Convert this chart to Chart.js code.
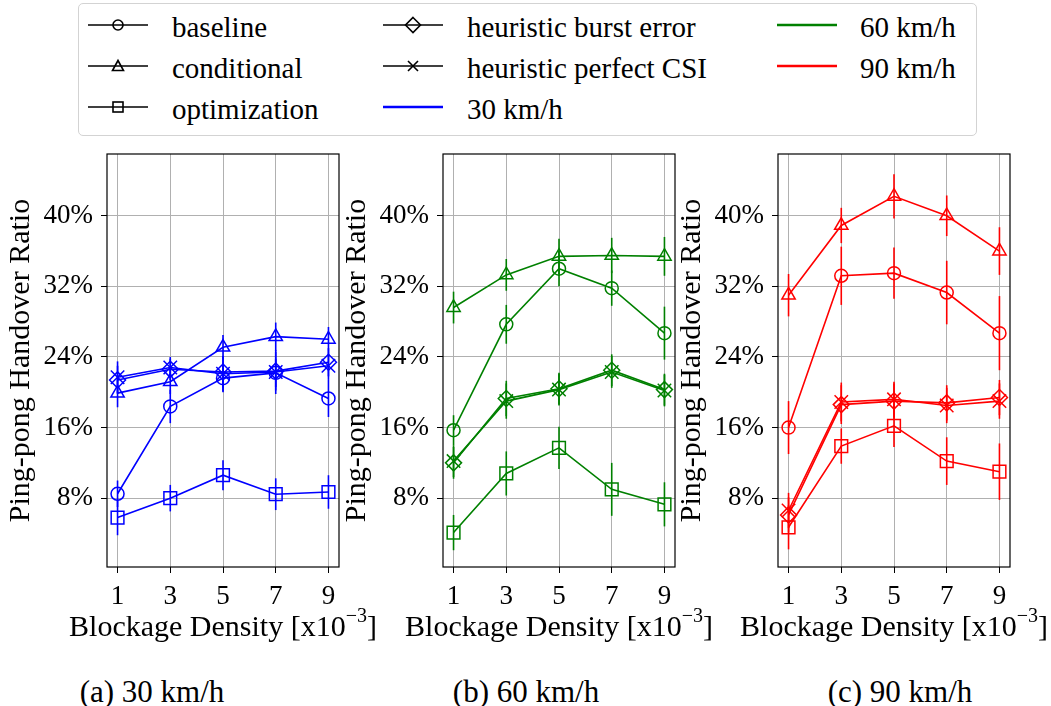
<!DOCTYPE html>
<html><head><meta charset="utf-8">
<script src="https://cdn.jsdelivr.net/npm/chart.js@4.4.1/dist/chart.umd.min.js"></script>
<style>
body{margin:0;width:1051px;height:706px;background:#fff;position:relative;overflow:hidden;font-family:"Liberation Serif",serif;color:#000;}
canvas.cv{position:absolute;top:140px;width:350px;height:520px;}
#legend{position:absolute;left:78px;top:3px;width:897px;height:131px;border:1px solid #d3d3d3;border-radius:5px;box-sizing:content-box;}
.mk{position:absolute;}
.lt{position:absolute;font-family:"Liberation Serif",serif;font-size:29px;line-height:34px;white-space:nowrap;}
.cap{position:absolute;top:674px;font-family:"Liberation Serif",serif;font-size:31px;line-height:36px;white-space:nowrap;transform:translateX(-50%);}
.xt{position:absolute;font-family:"Liberation Serif",serif;font-size:30px;line-height:36px;white-space:nowrap;transform:translateX(-50%);}
.xt sup{font-size:20px;line-height:0;position:relative;top:-3px;vertical-align:super;}
</style>
</head><body>
<div id="legend"></div>
<canvas class="cv" id="c0" width="350" height="520" style="left:0px"></canvas>
<canvas class="cv" id="c1" width="350" height="520" style="left:336px"></canvas>
<canvas class="cv" id="c2" width="350" height="520" style="left:671px"></canvas>
<div class="cap" style="left:152px">(a) 30 km/h</div>
<div class="cap" style="left:526px">(b) 60 km/h</div>
<div class="cap" style="left:900px">(c) 90 km/h</div>
<script>
// ---- data ----
const density = [1, 3, 5, 7, 9];
const xTicks = [1, 3, 5, 7, 9];
const yTicks = [8, 16, 24, 32, 40];
const methods = ['baseline', 'conditional', 'optimization', 'heuristic burst error', 'heuristic perfect CSI'];
const speeds = ['30 km/h', '60 km/h', '90 km/h'];
const speedColors = ['#0000ff', '#008000', '#ff0000'];
const xTitle = 'Blockage Density [x10';
const xTitleExp = '−3';
const yTitle = 'Ping-pong Handover Ratio';

// 30 km/h
const baseline30 = [8.5, 18.4, 21.6, 22.2, 19.3];
const conditional30 = [19.9, 21.2, 25.1, 26.3, 26.0];
const optimization30 = [5.8, 8.0, 10.6, 8.45, 8.7];
const burst30 = [21.4, 22.6, 22.3, 22.4, 23.4];
const perfect30 = [21.7, 22.8, 22.1, 22.3, 23.0];
const baseline30Err = [1.5, 1.9, 1.6, 1.6, 2.1];
const conditional30Err = [1.6, 1.4, 1.4, 1.6, 1.4];
const optimization30Err = [2.0, 1.5, 1.7, 1.8, 1.9];
const burst30Err = [1.6, 1.2, 1.8, 2.2, 1.6];
const perfect30Err = [1.8, 1.2, 2.0, 2.5, 1.6];

// 60 km/h
const baseline60 = [15.7, 27.7, 34.0, 31.8, 26.7];
const conditional60 = [29.6, 33.3, 35.4, 35.5, 35.4];
const optimization60 = [4.1, 10.8, 13.7, 9.0, 7.3];
const burst60 = [12.0, 19.3, 20.4, 22.5, 20.3];
const perfect60 = [12.2, 19.0, 20.3, 22.3, 20.2];
const baseline60Err = [1.7, 2.2, 2.0, 2.0, 3.0];
const conditional60Err = [1.8, 1.8, 2.0, 2.0, 2.2];
const optimization60Err = [2.0, 2.5, 2.4, 3.0, 2.5];
const burst60Err = [1.8, 2.0, 1.8, 1.8, 1.8];
const perfect60Err = [1.8, 2.0, 1.8, 1.8, 1.8];

// 90 km/h
const baseline90 = [16.0, 33.2, 33.5, 31.3, 26.7];
const conditional90 = [31.0, 38.9, 42.2, 40.0, 36.0];
const optimization90 = [4.7, 13.9, 16.2, 12.2, 11.0];
const burst90 = [6.1, 18.6, 19.0, 18.8, 19.4];
const perfect90 = [6.6, 18.9, 19.2, 18.5, 19.0];
const baseline90Err = [3.0, 3.3, 2.9, 3.6, 4.2];
const conditional90Err = [2.4, 2.0, 2.5, 2.3, 2.7];
const optimization90Err = [2.5, 2.0, 2.4, 2.7, 3.2];
const burst90Err = [2.0, 2.2, 2.0, 2.0, 2.0];
const perfect90Err = [2.0, 2.2, 2.0, 2.0, 2.0];

const panels = [
  {values: [baseline30, conditional30, optimization30, burst30, perfect30],
   errors: [baseline30Err, conditional30Err, optimization30Err, burst30Err, perfect30Err]},
  {values: [baseline60, conditional60, optimization60, burst60, perfect60],
   errors: [baseline60Err, conditional60Err, optimization60Err, burst60Err, perfect60Err]},
  {values: [baseline90, conditional90, optimization90, burst90, perfect90],
   errors: [baseline90Err, conditional90Err, optimization90Err, burst90Err, perfect90Err]}
];

// ---- styles ----
const FONT = '"Liberation Serif", serif';
const markerStyles = ['circle', 'triangle', 'rect', 'rectRot', 'crossRot'];
const markerRadii = [6.5, 7.7, 9, 8, 9.5];

const errorBarPlugin = {
  id: 'errorBars',
  beforeDatasetsDraw(chart) {
    const {ctx, scales: {x, y}} = chart;
    chart.data.datasets.forEach(ds => {
      if (!ds.errors) return;
      ctx.save();
      ctx.strokeStyle = ds.borderColor;
      ctx.lineWidth = 1.6;
      ds.data.forEach((pt, j) => {
        const px = x.getPixelForValue(pt.x);
        ctx.beginPath();
        ctx.moveTo(px, y.getPixelForValue(pt.y - ds.errors[j]));
        ctx.lineTo(px, y.getPixelForValue(pt.y + ds.errors[j]));
        ctx.stroke();
      });
      ctx.restore();
    });
  }
};
const framePlugin = {
  id: 'frame',
  afterDraw(chart) {
    const {ctx, chartArea: a} = chart;
    ctx.save();
    ctx.strokeStyle = '#000';
    ctx.lineWidth = 1.2;
    ctx.strokeRect(a.left, a.top, a.right - a.left, a.bottom - a.top);
    ctx.restore();
  }
};

panels.forEach((p, pi) => {
  const color = speedColors[pi];
  const canvas = document.getElementById('c' + pi);
  const datasets = methods.map((m, mi) => ({
    label: m,
    data: density.map((d, i) => ({x: d, y: p.values[mi][i]})),
    errors: p.errors[mi],
    borderColor: color,
    backgroundColor: 'rgba(0,0,0,0)',
    borderWidth: 1.6,
    pointStyle: markerStyles[mi],
    pointRadius: markerRadii[mi],
    pointBorderWidth: 1.5,
    pointBorderColor: color,
    pointBackgroundColor: 'rgba(0,0,0,0)',
    tension: 0,
    fill: false
  }));
  const chart = new Chart(canvas, {
    type: 'line',
    data: {datasets},
    plugins: [errorBarPlugin, framePlugin],
    options: {
      responsive: false,
      animation: false,
      devicePixelRatio: 1,
      layout: {padding: {top: 14, right: 7, left: 0, bottom: 0}},
      plugins: {legend: {display: false}, tooltip: {enabled: false}},
      scales: {
        x: {
          type: 'linear', min: 0.6, max: 9.4,
          afterBuildTicks(s) { s.ticks = xTicks.map(v => ({value: v})); },
          afterFit(s) { s.height = 93; s.paddingLeft = 0; s.paddingRight = 0; },
          grid: {color: '#b0b0b0', lineWidth: 1, tickColor: '#000', tickLength: 6},
          border: {display: false},
          ticks: {font: {family: FONT, size: 27}, color: '#000', padding: 8, maxRotation: 0, autoSkip: false},
          title: {display: false}
        },
        y: {
          type: 'linear', min: 0.2, max: 47,
          afterBuildTicks(s) { s.ticks = yTicks.map(v => ({value: v})); },
          afterFit(s) { s.width = 107; s.paddingTop = 0; s.paddingBottom = 0; },
          grid: {color: '#b0b0b0', lineWidth: 1, tickColor: '#000', tickLength: 6},
          border: {display: false},
          ticks: {font: {family: FONT, size: 27}, color: '#000', padding: 8, callback: v => v + '%'},
          title: {display: true, text: yTitle, font: {family: FONT, size: 30}, color: '#000', padding: {top: 3, bottom: 0}}
        }
      }
    }
  });
  // x-axis title as HTML text, centred under the chart area
  const a = chart.chartArea;
  const t = document.createElement('div');
  t.className = 'xt';
  t.innerHTML = xTitle + '<sup>' + xTitleExp + '</sup>]';
  t.style.left = (canvas.offsetLeft + (a.left + a.right) / 2) + 'px';
  t.style.top = '608px';
  document.body.appendChild(t);
});

// ---- legend (HTML) ----
const legendEl = document.getElementById('legend');
const rowY = [25, 66, 107];
const cols = [{line: 88, text: 172}, {line: 383, text: 467}, {line: 777, text: 860}];
function markerSvg(style) {
  const c = 'stroke="#000" stroke-width="1.6" fill="none"';
  switch (style) {
    case 'circle': return `<circle cx="30" cy="10" r="5" ${c}/>`;
    case 'triangle': return `<polygon points="30,4.5 24.5,14.5 35.5,14.5" ${c}/>`;
    case 'rect': return `<rect x="25" y="5" width="10" height="10" ${c}/>`;
    case 'rectRot': return `<polygon points="30,2.5 37.5,10 30,17.5 22.5,10" ${c}/>`;
    case 'crossRot': return `<path d="M25 5 L35 15 M35 5 L25 15" ${c}/>`;
  }
  return '';
}
const entries = [];
methods.forEach((m, i) => entries.push({label: m, style: markerStyles[i], color: '#000', lw: 1.6}));
speeds.forEach((s, i) => entries.push({label: s, style: null, color: speedColors[i], lw: 2.6}));
entries.forEach((e, k) => {
  const col = cols[Math.floor(k / 3)], row = rowY[k % 3];
  const svg = document.createElementNS('http://www.w3.org/2000/svg', 'svg');
  svg.setAttribute('width', '60'); svg.setAttribute('height', '20');
  svg.setAttribute('class', 'mk');
  svg.style.left = (col.line - 78 - 1) + 'px';
  svg.style.top = (row - 10 - 3 - 1) + 'px';
  svg.innerHTML = `<line x1="0" y1="10" x2="60" y2="10" stroke="${e.color}" stroke-width="${e.lw}"/>` + (e.style ? markerSvg(e.style) : '');
  legendEl.appendChild(svg);
  const t = document.createElement('div');
  t.className = 'lt';
  t.textContent = e.label;
  t.style.left = (col.text - 78 - 1) + 'px';
  t.style.top = (row - 17 - 3 - 1 + 2) + 'px';
  legendEl.appendChild(t);
});
</script>
</body></html>
